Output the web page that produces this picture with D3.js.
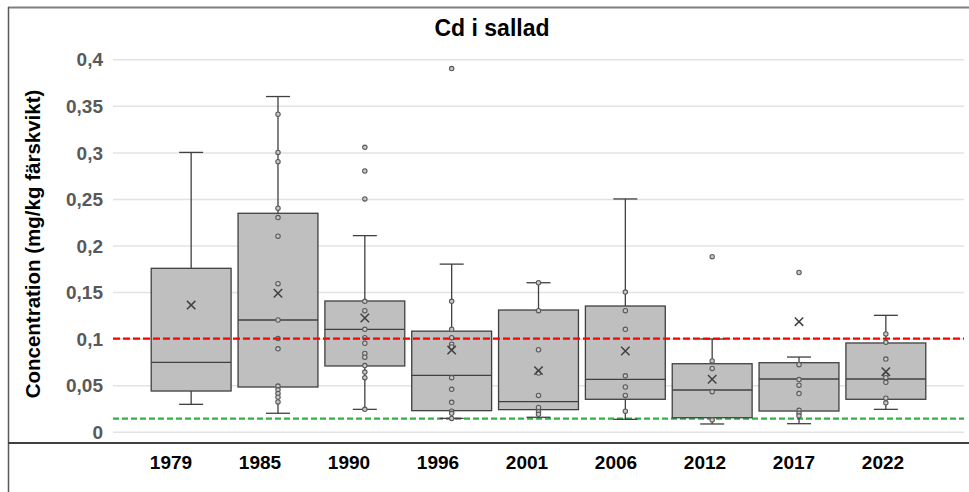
<!DOCTYPE html>
<html>
<head>
<meta charset="utf-8">
<script src="https://cdn.jsdelivr.net/npm/d3@7"></script>
<style>
	body { margin: 0; background: #fff; }
	text { font-family: "Liberation Sans", Arial, sans-serif; font-weight: bold; }
</style>
</head>
<body>
<div id="chart"></div>
<script>
// Data
const years = ["1979", "1985", "1990", "1996", "2001", "2006", "2012", "2017", "2022"];
const q1s = [0.0437, 0.048, 0.0706, 0.0226, 0.0237, 0.0348, 0.015, 0.0222, 0.0348];
const medians = [0.0745, 0.120, 0.110, 0.0605, 0.0322, 0.0563, 0.0448, 0.0566, 0.0566];
const q3s = [0.1755, 0.2346, 0.1404, 0.108, 0.1307, 0.135, 0.073, 0.0741, 0.0953];
const lows = [0.0294, 0.0198, 0.024, 0.0143, 0.0155, 0.0133, 0.0083, 0.0086, 0.024];
const highs = [0.300, 0.360, 0.2106, 0.180, 0.160, 0.250, 0.0996, 0.0802, 0.125];
const means = [0.136, 0.1487, 0.1221, 0.0877, 0.0656, 0.0867, 0.0563, 0.1182, 0.0645];
const points = [
	[],
	[0.341, 0.300, 0.290, 0.240, 0.230, 0.210, 0.159, 0.120, 0.100, 0.089, 0.049, 0.045, 0.041, 0.037, 0.032],
	[0.3055, 0.280, 0.250, 0.140, 0.130, 0.110, 0.101, 0.095, 0.084, 0.080, 0.071, 0.064, 0.058, 0.024],
	[0.390, 0.140, 0.110, 0.101, 0.094, 0.091, 0.058, 0.0455, 0.0315, 0.022, 0.0197, 0.0143],
	[0.160, 0.130, 0.088, 0.063, 0.039, 0.026, 0.0215, 0.0187],
	[0.150, 0.130, 0.110, 0.060, 0.048, 0.039, 0.022],
	[0.188, 0.076, 0.068, 0.043, 0.0126],
	[0.171, 0.072, 0.056, 0.050, 0.041, 0.023, 0.020, 0.017],
	[0.105, 0.096, 0.078, 0.061, 0.058, 0.053, 0.036, 0.031]
];
const yTicks = [0, 0.05, 0.1, 0.15, 0.2, 0.25, 0.3, 0.35, 0.4];
const limitRed = 0.1;
const limitGreen = 0.014;

const width = 969, height = 492;
const plot = { left: 113, right: 964, top: 59.3, bottom: 431.7 };

const svg = d3.select("#chart").append("svg")
	.attr("width", width)
	.attr("height", height);

// frame
svg.append("line").attr("x1", 8).attr("x2", width).attr("y1", 7.5).attr("y2", 7.5)
	.attr("stroke", "#7f7f7f").attr("stroke-width", 2);
svg.append("line").attr("x1", 8.5).attr("x2", 8.5).attr("y1", 7).attr("y2", height)
	.attr("stroke", "#595959").attr("stroke-width", 1.5);
svg.append("line").attr("x1", 8).attr("x2", width).attr("y1", 443).attr("y2", 443)
	.attr("stroke", "#404040").attr("stroke-width", 2);

const x = d3.scalePoint().domain(years).range([plot.left, plot.right]).padding(0.9);
const xLabel = d3.scalePoint().domain(years).range([plot.left + 58, plot.right - 81]);
const y = d3.scaleLinear().domain([0, 0.4]).range([plot.bottom, plot.top]);

const locale = d3.formatLocale({ decimal: ",", thousands: " ", grouping: [3], currency: ["", ""] });
const fmt = locale.format(".2~f");

// gridlines + y labels
const yAxis = d3.axisLeft(y).tickValues(yTicks).tickSize(-(plot.right - plot.left)).tickPadding(10).tickFormat(fmt);
const yg = svg.append("g").attr("transform", `translate(${plot.left},0)`).call(yAxis);
yg.select(".domain").remove();
yg.selectAll(".tick line").attr("stroke", "#e3e3e3").attr("stroke-width", 1.5);
yg.selectAll(".tick text").attr("fill", "#595959").style("font-size", "19px").attr("dy", "0.35em");

// reference lines
svg.append("line").attr("x1", plot.left).attr("x2", plot.right)
	.attr("y1", y(limitGreen)).attr("y2", y(limitGreen))
	.attr("stroke", "#2fb24a").attr("stroke-width", 2.2).attr("stroke-dasharray", "6,3");

const step = x.step();
const boxW = step * 0.92;
const capW = 24;

const groups = svg.selectAll(".box").data(years).enter()
	.append("g").attr("class", "box")
	.attr("transform", d => `translate(${x(d)},0)`);

// whiskers
groups.append("line").attr("y1", (d, i) => y(q3s[i])).attr("y2", (d, i) => y(highs[i]))
	.attr("stroke", "#404040").attr("stroke-width", 1.3);
groups.append("line").attr("y1", (d, i) => y(q1s[i])).attr("y2", (d, i) => y(lows[i]))
	.attr("stroke", "#404040").attr("stroke-width", 1.3);
groups.append("line").attr("x1", -capW / 2).attr("x2", capW / 2)
	.attr("y1", (d, i) => y(highs[i])).attr("y2", (d, i) => y(highs[i]))
	.attr("stroke", "#404040").attr("stroke-width", 1.3);
groups.append("line").attr("x1", -capW / 2).attr("x2", capW / 2)
	.attr("y1", (d, i) => y(lows[i])).attr("y2", (d, i) => y(lows[i]))
	.attr("stroke", "#404040").attr("stroke-width", 1.3);

// box
groups.append("rect")
	.attr("x", -boxW / 2).attr("width", boxW)
	.attr("y", (d, i) => y(q3s[i]))
	.attr("height", (d, i) => y(q1s[i]) - y(q3s[i]))
	.attr("fill", "#bfbfbf").attr("stroke", "#404040").attr("stroke-width", 1.3);
groups.append("line").attr("x1", -boxW / 2).attr("x2", boxW / 2)
	.attr("y1", (d, i) => y(medians[i])).attr("y2", (d, i) => y(medians[i]))
	.attr("stroke", "#404040").attr("stroke-width", 1.3);

// red limit above boxes
svg.append("line").attr("x1", plot.left).attr("x2", plot.right)
	.attr("y1", y(limitRed)).attr("y2", y(limitRed))
	.attr("stroke", "#ff0000").attr("stroke-width", 2.4).attr("stroke-dasharray", "7,3");

// points
groups.each(function(d, i) {
	d3.select(this).selectAll("circle").data(points[i]).enter()
		.append("circle")
		.attr("cx", 0).attr("cy", v => y(v)).attr("r", 2.2)
		.attr("fill", "#c8c8c8").attr("stroke", "#595959").attr("stroke-width", 1.1);
});

// mean markers
groups.append("path")
	.attr("d", (d, i) => {
		const cy = y(means[i]), s = 4.2;
		return `M${-s},${cy - s}L${s},${cy + s}M${-s},${cy + s}L${s},${cy - s}`;
	})
	.attr("stroke", "#404040").attr("stroke-width", 1.5).attr("fill", "none");

// category labels
svg.selectAll(".year").data(years).enter()
	.append("text").attr("class", "year")
	.attr("x", d => xLabel(d)).attr("y", 469)
	.attr("text-anchor", "middle")
	.style("font-size", "19px").attr("fill", "#000")
	.text(d => d);

// title
svg.append("text").attr("x", 492).attr("y", 36).attr("text-anchor", "middle")
	.style("font-size", "23px").attr("fill", "#000").text("Cd i sallad");

// y axis title
svg.append("text")
	.attr("transform", `translate(40,244) rotate(-90)`)
	.attr("text-anchor", "middle")
	.style("font-size", "20.5px").attr("fill", "#000")
	.text("Concentration (mg/kg färskvikt)");
</script>
</body>
</html>
